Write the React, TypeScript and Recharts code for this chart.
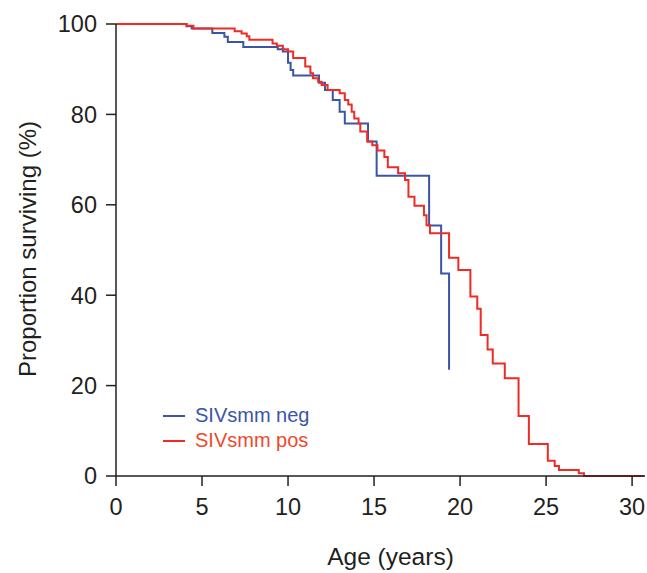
import React from 'react';
import { LineChart, Line, XAxis, YAxis, Legend, Label } from 'recharts';

// Kaplan-Meier steps (age in years, % surviving)
const negAges = [0, 4.1, 4.4, 5.6, 6.3, 6.5, 7.4, 9.4, 9.7, 10.0, 10.15, 10.3, 11.8, 12.15, 12.6, 13.0, 13.3, 14.65, 15.15, 18.2, 18.9, 19.36];
const negSurv = [100, 99.5, 99.0, 98.0, 97.2, 96.0, 94.9, 94.4, 93.9, 91.4, 89.8, 88.6, 87.0, 85.4, 83.2, 80.6, 78.0, 74.0, 66.4, 55.4, 44.8, 23.5];

const posAges = [0, 4.1, 4.5, 6.9, 7.3, 7.6, 7.75, 9.1, 9.35, 9.7, 10.0, 10.3, 11.0, 11.3, 11.45, 11.75, 11.95, 12.3, 13.0, 13.3, 13.5, 13.7, 13.85, 14.1, 14.2, 14.6, 14.9, 15.2, 15.6, 15.8, 16.4, 16.8, 17.0, 17.35, 17.9, 18.05, 18.25, 19.36, 19.9, 20.6, 21.0, 21.2, 21.6, 21.9, 22.6, 23.4, 24.0, 25.1, 25.5, 25.75, 26.9, 27.2, 30.7];
const posSurv = [100, 99.6, 99.0, 98.4, 97.9, 97.3, 96.5, 95.7, 95.2, 94.4, 93.9, 92.5, 90.6, 89.1, 88.0, 87.2, 86.5, 85.4, 84.7, 83.2, 82.2, 80.6, 79.1, 78.0, 76.2, 74.0, 73.2, 72.0, 70.6, 68.3, 67.0, 65.5, 61.8, 59.8, 57.7, 55.5, 53.7, 48.3, 45.6, 39.7, 37.0, 31.2, 28.0, 24.9, 21.6, 13.3, 7.1, 3.4, 2.2, 1.3, 0.6, 0, 0];

const xTicks = [0, 5, 10, 15, 20, 25, 30];
const yTicks = [0, 20, 40, 60, 80, 100];

const seriesNames = ['SIVsmm neg', 'SIVsmm pos'];
const BLUE = '#3b55a5';
const RED = '#ee2b25';
const legendText = ['#3b55a5', '#ef4a2c'];
const INK = '#231f20';
const FONT = '"Liberation Sans", Arial, sans-serif';

const negData = negAges.map((t, i) => ({ t, s: negSurv[i] }));
const posData = posAges.map((t, i) => ({ t, s: posSurv[i] }));

const renderLegend = () => (
  <div style={{ fontFamily: FONT, fontSize: 20, lineHeight: '25px' }}>
    {[BLUE, RED].map((c, i) => (
      <div key={i} style={{ display: 'flex', alignItems: 'center', color: legendText[i] }}>
        <span style={{ display: 'inline-block', width: 22, height: 2, background: c, marginRight: 10 }} />
        {seriesNames[i]}
      </div>
    ))}
  </div>
);

export default function App() {
  const axisStroke = { stroke: INK, strokeWidth: 1.5 };
  const tickStyle = { fill: INK, fontSize: 23.5, fontFamily: FONT };
  return (
    <div style={{ position: 'absolute', left: 0, top: 0 }}>
      <LineChart width={647} height={573} margin={{ top: 24, right: 2, bottom: 0, left: 0 }}>
        <XAxis
          type="number"
          dataKey="t"
          domain={[0, 30.75]}
          ticks={xTicks}
          allowDataOverflow
          axisLine={axisStroke}
          tickLine={axisStroke}
          tickSize={10}
          tickMargin={12}
          tick={tickStyle}
          height={97}
        >
          <Label
            content={() => (
              <text x={390.5} y={565} textAnchor="middle" fill={INK} fontSize={24.5} fontFamily={FONT}>
                Age (years)
              </text>
            )}
          />
        </XAxis>
        <YAxis
          type="number"
          dataKey="s"
          domain={[0, 100]}
          ticks={yTicks}
          axisLine={axisStroke}
          tickLine={axisStroke}
          tickSize={10}
          tickMargin={9}
          tick={tickStyle}
          width={116}
        >
          <Label
            content={() => (
              <text
                x={27}
                y={249}
                transform="rotate(-90 27 249)"
                textAnchor="middle"
                dominantBaseline="central"
                fill={INK}
                fontSize={24}
                fontFamily={FONT}
              >
                Proportion surviving (%)
              </text>
            )}
          />
        </YAxis>
        <Legend
          layout="horizontal"
          align="center"
          verticalAlign="middle"
          content={renderLegend}
          wrapperStyle={{ left: 163, top: 403, width: 'auto' }}
        />
        <Line
          data={negData}
          dataKey="s"
          type="stepAfter"
          stroke={BLUE}
          strokeWidth={2}
          dot={false}
          isAnimationActive={false}
        />
        <Line
          data={posData}
          dataKey="s"
          type="stepAfter"
          stroke={RED}
          strokeWidth={2}
          dot={false}
          isAnimationActive={false}
        />
      </LineChart>
    </div>
  );
}
